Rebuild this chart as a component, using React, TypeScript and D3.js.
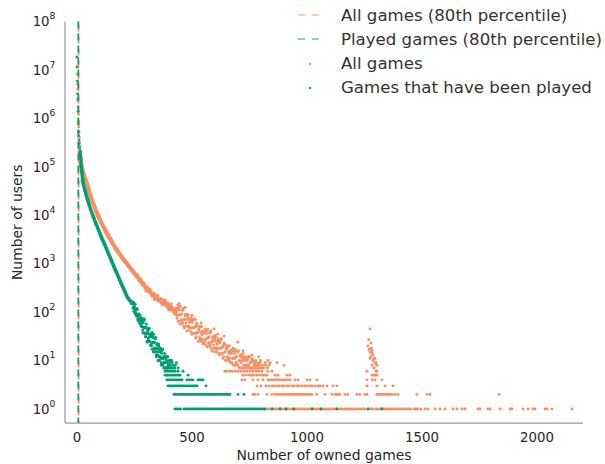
import React from "react";
import * as d3 from "d3";

// ---------- DATA ----------
// [number of owned games, number of users]
const allGamesCurve: [number, number][] = [
  [0, 11500000], [1, 8300000], [2, 5100000], [3, 4000000], [4, 2300000], [5, 1700000], [6, 1230000],
  [7, 870000], [8, 660000], [9, 520000], [10, 410000], [11, 330000], [12, 262000], [13, 205000],
  [14, 180000], [15, 160000], [16, 146000], [17, 132000], [18, 120000], [19, 109000], [20, 100000],
  [22, 92000], [24, 85000], [26, 78000], [28, 72000], [30, 66000], [32, 62000], [34, 58500], [36, 55200],
  [38, 52000], [40, 49000], [42, 46000], [44, 43500], [46, 40000], [48, 37200], [50, 34600], [52, 32200],
  [55, 28800], [58, 25800], [61, 23300], [64, 21300], [67, 19500], [70, 17800], [73, 16300], [76, 14900],
  [79, 13600], [82, 12500], [85, 11600], [88, 10700], [91, 9980], [94, 9250], [97, 8600], [100, 7950],
  [104, 7300], [108, 6700], [112, 6150], [116, 5650], [120, 5200], [124, 4800], [128, 4420], [132, 4080],
  [136, 3780], [140, 3500], [144, 3250], [148, 3020], [152, 2800], [156, 2600], [160, 2420], [165, 2210],
  [170, 2030], [175, 1870], [180, 1730], [185, 1590], [190, 1480], [195, 1370], [200, 1270], [205, 1180],
  [210, 1100], [215, 1030], [220, 960], [226, 880], [232, 810], [238, 745], [244, 690], [250, 635],
  [256, 585], [262, 540], [268, 495], [274, 455], [280, 420], [286, 390], [292, 360], [298, 332],
  [304, 308], [310, 286], [316, 265], [322, 248], [328, 232], [334, 220], [340, 208], [346, 196],
  [352, 188], [358, 180], [364, 172], [370, 165], [376, 158], [382, 150], [388, 143], [394, 137],
  [400, 130], [406, 123], [412, 117], [418, 111], [424, 105], [430, 100],
];

const allGamesTail: [number, number][] = [
  [289, 372], [295, 352], [301, 305], [307, 300], [313, 262], [319, 270], [325, 225], [331, 240],
  [337, 208], [343, 214], [349, 180], [355, 195], [361, 165], [367, 180], [373, 150], [379, 168],
  [385, 140], [391, 152], [397, 126], [403, 140], [409, 112], [415, 123], [421, 100], [427, 112],
  [300, 270], [318, 300], [336, 180], [352, 220], [370, 140], [384, 178], [398, 112], [410, 148], [425, 90],
  [262, 600], [270, 450], [278, 470], [284, 360], [292, 395], [298, 300], [306, 330], [312, 260],
  [320, 275], [326, 215], [334, 245], [340, 190], [346, 215], [354, 170], [360, 195], [366, 155],
  [372, 182], [378, 145], [386, 160], [392, 125], [396, 152], [404, 115], [412, 130], [418, 100],
  [424, 118], [429, 90],
  [432, 112], [435, 74], [438, 140], [441, 86], [444, 110], [447, 57], [450, 88], [453, 70], [456, 110],
  [459, 61], [462, 119], [465, 52], [468, 71], [471, 89], [474, 60], [477, 41], [480, 74], [483, 82],
  [486, 48], [489, 62], [492, 48], [495, 76], [498, 38], [501, 61], [504, 47], [507, 72], [510, 36],
  [513, 49], [516, 29], [519, 53], [522, 37], [525, 52], [528, 25], [531, 42], [534, 30], [537, 51],
  [540, 25], [543, 34], [546, 41], [549, 22], [552, 36], [555, 24], [558, 45], [561, 28], [564, 36],
  [567, 19], [570, 29], [573, 23], [576, 37], [579, 21], [582, 41], [585, 18], [588, 25], [591, 31],
  [594, 21], [597, 15], [600, 26], [603, 30], [606, 17], [609, 22], [612, 18], [615, 28], [618, 14],
  [621, 23], [624, 18], [627, 28], [630, 14], [633, 19], [636, 11], [639, 21], [642, 15], [645, 21],
  [648, 10], [651, 17], [654, 12], [657, 20], [660, 10], [663, 14], [666, 16], [669, 9], [672, 14],
  [675, 9], [678, 18], [681, 11], [684, 14], [687, 8], [690, 12], [693, 9], [696, 15], [699, 8],
  [702, 16], [705, 7], [708, 10], [711, 13], [714, 9], [717, 7], [720, 11], [723, 12], [726, 7],
  [729, 10], [732, 8], [735, 12], [738, 7], [741, 10], [744, 8], [747, 12], [750, 7], [753, 9],
  [756, 7], [759, 10], [762, 7], [765, 10], [768, 7], [771, 8], [774, 7], [777, 10], [780, 7], [783, 7],
  [786, 8], [790, 7], [795, 9], [800, 7], [806, 8], [812, 7], [820, 8], [828, 7], [840, 9],
  [445, 150], [470, 125], [500, 85], [515, 70], [540, 60], [596, 45], [613, 35], [640, 32], [700, 24],
  [722, 16], [760, 13], [790, 12], [830, 10], [870, 9], [900, 8],
];

const allGamesTail2: [number, number][] = [
  [434, 124], [437, 85], [440, 64], [443, 121], [446, 87], [449, 132], [452, 67], [455, 92], [458, 58],
  [461, 109], [464, 70], [467, 47], [470, 84], [473, 89], [476, 51], [479, 70], [482, 91], [485, 51],
  [488, 42], [491, 69], [494, 69], [497, 47], [500, 35], [503, 67], [506, 48], [509, 72], [512, 37],
  [515, 50], [518, 31], [521, 59], [524, 38], [527, 25], [530, 45], [533, 48], [536, 27], [539, 38],
  [542, 50], [545, 28], [548, 24], [551, 39], [554, 39], [557, 27], [560, 21], [563, 40], [566, 29],
  [569, 44], [572, 23], [575, 31], [578, 20], [581, 38], [584, 24], [587, 16], [590, 29], [593, 31],
  [596, 18], [599, 25], [602, 33], [605, 18], [608, 15], [611, 25], [614, 25], [617, 18], [620, 13],
  [623, 25], [626, 18], [629, 28], [632, 14], [635, 20], [638, 12], [641, 23], [644, 15], [647, 10],
  [650, 18], [653, 19], [656, 11], [659, 15], [662, 20], [665, 11], [668, 9], [671, 16], [674, 16],
  [677, 11], [680, 8], [683, 16], [686, 11], [689, 17], [692, 9], [695, 12], [698, 8], [701, 15],
  [704, 10], [707, 7], [710, 12], [713, 13], [716, 7], [719, 10], [722, 14], [725, 8], [728, 7],
  [731, 11], [734, 11], [737, 8], [740, 7], [743, 11], [746, 8], [749, 12], [752, 7], [755, 9],
  [758, 7], [761, 11], [764, 7], [767, 7], [770, 9], [773, 9], [779, 8], [785, 9], [792, 8], [798, 10],
  [808, 7], [818, 9], [835, 8],
];

const allGamesSpike: [number, number][] = [
  [1274, 45], [1268, 27], [1278, 23], [1270, 17], [1274, 15], [1283, 14], [1287, 13], [1274, 11],
  [1287, 10], [1291, 11], [1296, 9], [1304, 8], [1291, 7], [1300, 6], [1304, 6], [1287, 5], [1304, 5],
  [1265, 20], [1280, 18], [1283, 16], [1278, 12], [1296, 11], [1300, 9], [1283, 8],
];

// game counts owned by exactly N users (low-count rows)
const allGamesUsers6 = [643, 652, 665, 675, 687, 700, 713, 726, 740, 752, 765, 778, 790, 804, 830, 848, 1261];
const allGamesUsers5 = [722, 735, 748, 760, 770, 783, 795, 808, 820, 826, 861, 874, 913, 926, 1283, 1296];
const allGamesUsers4 = [717, 730, 765, 787, 809, 830, 839, 848, 857, 866, 874, 883, 892, 900, 909, 917,
  926, 948, 961, 1000, 1013, 1043, 1261, 1283, 1296, 1326];
const allGamesUsers3 = [783, 800, 822, 835, 848, 857, 870, 878, 890, 900, 913, 922, 935, 945, 957, 965,
  978, 990, 1000, 1013, 1022, 1035, 1048, 1057, 1070, 1087, 1113, 1130, 1261, 1304, 1339, 1374];
const allGamesUsers2 = [765, 774, 787, 826, 848, 861, 869, 877, 885, 893, 901, 909, 917, 925, 933, 941,
  949, 957, 965, 973, 981, 989, 997, 1005, 1013, 1021, 1043, 1078, 1109, 1122, 1130, 1136, 1143, 1165,
  1178, 1217, 1230, 1252, 1261, 1304, 1311, 1318, 1326, 1333, 1340, 1348, 1355, 1362, 1370, 1383, 1396,
  1478, 1522, 1535, 1835];
const allGamesUsers1 = [820, 828, 836, 845, 852, 860, 868, 876, 884, 892, 900, 908, 916, 924, 932, 940,
  948, 956, 964, 972, 980, 988, 996, 1004, 1012, 1020, 1028, 1036, 1044, 1052, 1060, 1068, 1076, 1084,
  1092, 1100, 1108, 1116, 1124, 1132, 1140, 1148, 1156, 1164, 1172, 1180, 1188, 1196, 1204, 1212, 1220,
  1228, 1236, 1244, 1252, 1270, 1278, 1286, 1300, 1308, 1316, 1324, 1332, 1340, 1348, 1356, 1364, 1372,
  1380, 1388, 1396, 1404, 1412, 1420, 1428, 1436, 1444, 1452, 1466, 1474, 1482, 1496, 1513, 1526, 1557,
  1578, 1600, 1635, 1652, 1674, 1687, 1743, 1752, 1787, 1796, 1839, 1883, 1891, 1939, 1961, 1983, 1991,
  2035, 2043, 2065, 2152];

const playedCurve: [number, number][] = [
  [0, 18500000], [1, 11500000], [2, 5900000], [3, 3200000], [4, 2500000], [5, 1400000], [6, 760000],
  [7, 540000], [8, 430000], [9, 360000], [10, 300000], [11, 260000], [12, 230000], [13, 200000],
  [14, 178000], [15, 158000], [16, 141000], [17, 126000], [18, 112000], [19, 100000], [20, 89000],
  [21, 80400], [22, 72400], [23, 65300], [24, 58900], [25, 53100], [26, 47900], [28, 43900], [30, 40300],
  [32, 37000], [34, 34000], [36, 31200], [38, 28600], [40, 26300], [42, 24400], [44, 22700], [46, 21100],
  [48, 19600], [50, 18200], [52, 16900], [54, 15700], [57, 14200], [60, 13000], [63, 11800], [66, 10800],
  [69, 9840], [72, 9040], [75, 8320], [78, 7660], [81, 7050], [84, 6490], [87, 5970], [90, 5500],
  [93, 5060], [96, 4660], [99, 4290], [102, 3960], [105, 3670], [108, 3400], [111, 3160], [114, 2920],
  [117, 2710], [120, 2510], [123, 2330], [126, 2160], [129, 2000], [132, 1850], [135, 1710], [138, 1580],
  [141, 1460], [144, 1350], [147, 1250], [150, 1160], [153, 1070], [156, 990], [159, 915], [162, 847],
  [165, 785], [168, 728], [171, 675], [174, 625], [177, 580], [180, 537], [183, 498], [186, 461],
  [189, 428], [192, 396], [195, 368], [198, 342], [201, 318], [204, 295], [207, 274], [210, 255],
  [213, 237], [216, 220], [220, 200], [224, 190], [228, 178], [232, 170], [236, 155], [240, 151],
];

const playedTail: [number, number][] = [
  [242, 153], [244, 120], [246, 160], [248, 122], [250, 133], [252, 93], [254, 112], [256, 97],
  [258, 117], [260, 85], [262, 115], [264, 73], [266, 83], [268, 90], [270, 72], [272, 58], [274, 75],
  [276, 77], [278, 57], [280, 63], [282, 52], [284, 74], [286, 42], [288, 60], [290, 48], [292, 67],
  [294, 37], [296, 47], [298, 31], [300, 49], [302, 36], [304, 47], [306, 25], [308, 39], [310, 29],
  [312, 44], [314, 25], [316, 31], [318, 35], [320, 21], [322, 31], [324, 20], [326, 38], [328, 23],
  [330, 30], [332, 15], [334, 23], [336, 18], [338, 29], [340, 16], [342, 30], [344, 13], [346, 18],
  [348, 22], [350, 15], [352, 10], [354, 18], [356, 20], [358, 12], [360, 15], [362, 12], [364, 18],
  [366, 9], [368, 14], [370, 11], [372, 17], [374, 8], [376, 11], [378, 7], [380, 12], [382, 9],
  [384, 12], [386, 7], [388, 10], [390, 7], [392, 12], [394, 7], [396, 8], [398, 10], [400, 7],
  [403, 9], [406, 8], [409, 7], [412, 10], [416, 7], [420, 8], [426, 7], [432, 9], [440, 7],
];

const playedTail2: [number, number][] = [
  [243, 162], [245, 126], [247, 103], [249, 147], [251, 117], [253, 146], [255, 95], [257, 111],
  [259, 82], [261, 116], [263, 87], [265, 66], [267, 91], [269, 92], [271, 64], [273, 75], [275, 86],
  [277, 59], [279, 51], [281, 68], [283, 72], [285, 49], [287, 37], [289, 68], [291, 49], [293, 72],
  [295, 36], [297, 49], [299, 31], [301, 57], [303, 36], [305, 24], [307, 42], [309, 45], [311, 26],
  [313, 35], [315, 46], [317, 25], [319, 21], [321, 34], [323, 34], [325, 23], [327, 17], [329, 33],
  [331, 24], [333, 35], [335, 18], [337, 24], [339, 15], [341, 28], [343, 18], [345, 12], [347, 21],
  [349, 22], [351, 13], [353, 17], [355, 22], [357, 12], [359, 10], [361, 17], [363, 16], [365, 11],
  [367, 8], [369, 16], [371, 11], [373, 17], [375, 9], [377, 12], [379, 7], [381, 14], [383, 9],
  [385, 7], [387, 11], [389, 12], [391, 7], [393, 9], [395, 12], [397, 7], [401, 8], [405, 10],
  [408, 7], [414, 9], [423, 7], [428, 8],
];

const playedUsers6 = [383, 392, 400, 409, 417, 426, 439, 461];
const playedUsers5 = [383, 390, 396, 404, 411, 418, 426, 433, 441, 448, 483];
const playedUsers4 = [391, 398, 405, 413, 420, 428, 435, 443, 450, 457, 478, 487, 496, 504, 526, 535, 543, 548];
const playedUsers3 = [396, 404, 411, 419, 426, 434, 441, 449, 456, 464, 471, 479, 486, 494, 501, 509,
  516, 522, 561];
const playedUsers2 = [422, 429, 437, 444, 452, 459, 466, 474, 481, 489, 496, 503, 511, 518, 526, 533,
  540, 548, 555, 562, 570, 577, 585, 592, 600, 607, 614, 622, 629, 637, 644, 651, 658, 665, 700, 726];
const playedUsers1 = [426, 434, 442, 450, 465, 473, 481, 489, 497, 505, 513, 521, 529, 537, 545, 553,
  561, 569, 577, 585, 593, 601, 609, 617, 625, 633, 641, 649, 657, 665, 673, 681, 689, 697, 705, 713,
  721, 729, 737, 745, 753, 761, 769, 777, 785, 793, 801, 809, 817, 848, 883, 909, 943, 1022, 1061, 1130,
  1265, 1326];

const percentileAll = 7;
const percentilePlayed = 6;

const xTicks = [0, 500, 1000, 1500, 2000];
const yTickExponents = [0, 1, 2, 3, 4, 5, 6, 7, 8];

const ORANGE = "#fc8d62";
const GREEN = "#029e73";

const legendItems = [
  { label: "All games (80th percentile)", kind: "line", color: ORANGE },
  { label: "Played games (80th percentile)", kind: "line", color: GREEN },
  { label: "All games", kind: "dot", color: ORANGE },
  { label: "Games that have been played", kind: "dot", color: GREEN },
];

function rows(lists: number[][]): [number, number][] {
  const out: [number, number][] = [];
  lists.forEach((l, i) => l.forEach((v) => out.push([v, i + 1])));
  return out;
}

export default function App() {
  const W = 605;
  const H = 464;
  const x = d3.scaleLinear().domain([-52, 2200]).range([65, 583]);
  const y = d3.scaleLog().domain([0.514, 1e8]).range([423, 21.5]);

  const allTailPoints: [number, number][] = [
    ...allGamesTail,
    ...allGamesTail2,
    ...allGamesSpike,
    ...rows([allGamesUsers1, allGamesUsers2, allGamesUsers3, allGamesUsers4, allGamesUsers5, allGamesUsers6]),
  ];
  const playedTailPoints: [number, number][] = [
    ...playedTail,
    ...playedTail2,
    ...rows([playedUsers1, playedUsers2, playedUsers3, playedUsers4, playedUsers5, playedUsers6]),
  ];

  const font = "DejaVu Sans, sans-serif";
  const textColor = "#262626";
  const rTail = 1.45;

  return (
    <svg width={W} height={H} style={{ position: "absolute", left: 0, top: 0 }} fontFamily={font}>
      <rect width={W} height={H} fill="#fff" />
      {/* scatter: all games */}
      <g fill={ORANGE}>
        {allGamesCurve.map((d, i) => (
          <circle key={"ac" + i} cx={x(d[0])} cy={y(d[1])} r={d[0] < 13 ? 1.4 : 2.2} />
        ))}
        {allTailPoints.map((d, i) => (
          <circle key={"at" + i} cx={x(d[0])} cy={y(d[1])} r={rTail} />
        ))}
      </g>
      {/* scatter: played games */}
      <g fill={GREEN}>
        {playedCurve.map((d, i) => (
          <circle key={"pc" + i} cx={x(d[0])} cy={y(d[1])} r={d[0] < 13 ? 1.4 : 1.85} />
        ))}
        {playedTailPoints.map((d, i) => (
          <circle key={"pt" + i} cx={x(d[0])} cy={y(d[1])} r={rTail} />
        ))}
      </g>
      {/* percentile lines */}
      <line x1={x(percentileAll)} x2={x(percentileAll)} y1={y(1e8)} y2={423} stroke={ORANGE}
        strokeWidth={1.7} strokeDasharray="7,5" strokeDashoffset={-3} />
      <line x1={x(percentilePlayed)} x2={x(percentilePlayed)} y1={y(1e8)} y2={423} stroke={GREEN}
        strokeWidth={1.7} strokeDasharray="7,5" />
      {/* spines */}
      <line x1={65} x2={65} y1={21.5} y2={423} stroke="#9a9a9a" strokeWidth={1.25} />
      <line x1={65} x2={583} y1={423} y2={423} stroke="#9a9a9a" strokeWidth={1.25} />
      {/* x ticks */}
      {xTicks.map((t) => (
        <text key={"xt" + t} x={x(t)} y={441.5} textAnchor="middle" fontSize={13.3} fill={textColor}>
          {t}
        </text>
      ))}
      {/* y ticks */}
      {yTickExponents.map((e) => (
        <text key={"yt" + e} x={55.5} y={y(Math.pow(10, e)) + 4.8} textAnchor="end" fontSize={13.3} fill={textColor}>
          <tspan>10</tspan>
          <tspan dy={-7} fontSize={9.3}>{e}</tspan>
        </text>
      ))}
      {/* axis labels */}
      <text x={(65 + 583) / 2} y={459.5} textAnchor="middle" fontSize={13.9} fill={textColor}>
        Number of owned games
      </text>
      <text transform={`translate(22, ${(21.5 + 423) / 2}) rotate(-90)`} textAnchor="middle" fontSize={13.9} fill={textColor}>
        Number of users
      </text>
      {/* legend */}
      {legendItems.map((it, i) => {
        const cy = 15 + i * 24;
        return (
          <g key={"lg" + i}>
            {it.kind === "line" ? (
              <line x1={298} x2={320} y1={cy} y2={cy} stroke={it.color} strokeWidth={1.7}
                strokeDasharray="7,7" opacity={0.6} />
            ) : (
              <circle cx={310} cy={cy + 1} r={1.2} fill={it.color} />
            )}
            <text x={341} y={cy} dy="0.35em" fontSize={16.6} fill="#333">
              {it.label}
            </text>
          </g>
        );
      })}
    </svg>
  );
}
